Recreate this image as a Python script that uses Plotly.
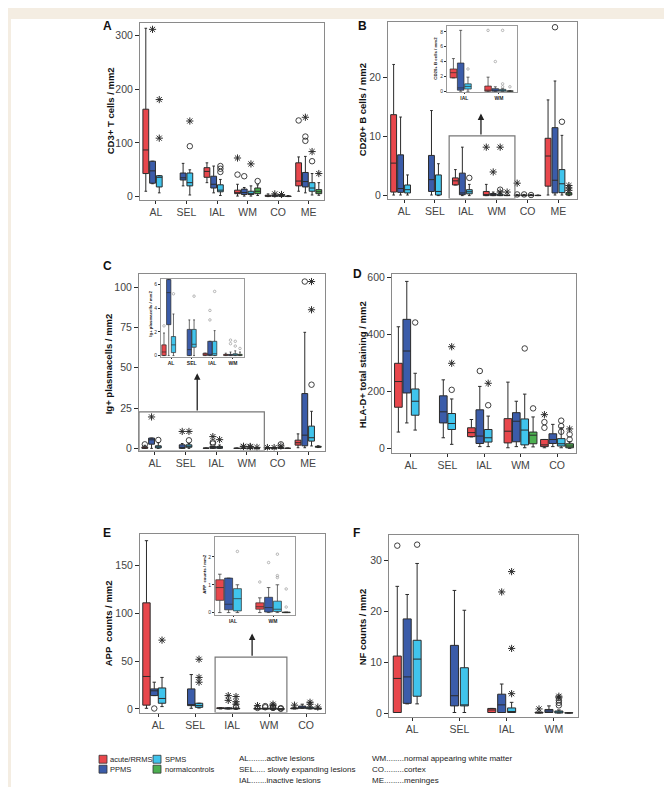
import plotly.graph_objects as go

W, H = 672, 787

GROUPS = ["acute/RRMS", "PPMS", "SPMS", "normal controls"]
COLORS = ["#e8474c", "#3b5ca9", "#40c4ec", "#4caf50"]

# five-number summaries per lesion type: (lower whisker, q1, median, q3, upper whisker)
# None = group not sampled there
CATS6 = ["AL", "SEL", "IAL", "WM", "CO", "ME"]
CATS5 = ["AL", "SEL", "IAL", "WM", "CO"]
CATS4 = ["AL", "SEL", "IAL", "WM"]

# A: CD3+ T cells / mm2
A_RRMS = [(10, 43, 87, 163, 314), None, (26, 36, 47, 54, 63), (1, 5.5, 7, 12, 23), (0, 0.5, 1.5, 2.5, 5), (10, 20, 29, 63, 74)]
A_PPMS = [(24, 25, 48, 66, 66), (20, 31, 35, 44, 62), (7, 16, 23, 38, 57), (1, 4, 7.5, 14, 17), (0, 0.5, 1.5, 3, 5), (7, 18, 28, 45, 75)]
A_SPMS = [(7, 18, 36, 39, 39), (3, 20, 26, 44, 50), (2, 9, 12, 22, 32), (1, 4, 6, 10, 20), (0, 0.5, 1.5, 2.5, 4), (3, 10, 16, 26, 43)]
A_CTRL = [None, None, None, (2, 5.5, 10, 16, 22), (0, 0.2, 0.5, 1, 2), (2.5, 5.5, 9, 13, 26)]
# outliers: (lesion index, group index, value)
A_CIRC = [(1, 2, 94), (2, 2, 57), (2, 2, 52), (2, 2, 46), (3, 0, 41), (3, 1, 38), (3, 3, 29),
          (5, 0, 142), (5, 1, 112), (5, 1, 104), (5, 2, 66)]
A_STAR = [(0, 1, 312), (0, 2, 181), (0, 2, 109), (1, 2, 141), (3, 0, 72), (3, 2, 61), (4, 1, 5), (4, 2, 4),
          (5, 1, 148), (5, 2, 84), (5, 3, 43)]

# B: CD20+ B cells / mm2
B_RRMS = [(0.1, 0.6, 5.5, 13.7, 22.2), None, (1.8, 1.8, 2.5, 3.0, 4.4), (0, 0, 0.15, 0.7, 1.9), (0, 0, 0.05, 0.1, 0.2), (0.1, 1.6, 6.7, 9.7, 16.2)]
B_PPMS = [(0.1, 0.55, 1.2, 6.9, 13.3), (0.1, 0.7, 2.7, 6.8, 14.4), (0, 0.15, 0.45, 3.8, 8.2), (0, 0, 0.1, 0.35, 0.6), (0, 0, 0.05, 0.1, 0.2), (0.1, 0.45, 2.6, 11.5, 19.4)]
B_SPMS = [(0.1, 0.45, 1.0, 1.8, 3.5), (0, 0.1, 0.7, 3.5, 5.4), (0, 0.3, 0.65, 1.0, 1.9), (0, 0, 0.1, 0.25, 0.35), (0, 0, 0.05, 0.1, 0.2), (0.1, 0.5, 2.0, 4.4, 10.2)]
B_CTRL = [None, None, None, (0, 0, 0.02, 0.05, 0.1), (0, 0, 0.02, 0.05, 0.1), (0, 0.1, 0.2, 0.5, 0.6)]
B_CIRC = [(2, 2, 3.0), (3, 2, 1.0), (4, 0, 0.2), (4, 1, 0.2), (4, 2, 0.1), (5, 1, 28.5), (5, 2, 12.5)]
B_STAR = [(3, 0, 8.2), (3, 1, 4.0), (3, 2, 8.2), (3, 2, 0.6), (3, 3, 0.6), (4, 0, 2.1), (5, 3, 0.9), (5, 3, 1.3), (5, 3, 1.7)]

# C: Ig+ plasmacells / mm2
C_RRMS = [(0, 0, 0.3, 0.9, 1.9), None, (0, 0, 0.15, 0.2, 0.2), (0, 0, 0.05, 0.1, 0.2), (0, 0, 0.05, 0.1, 0.2), (0.4, 2.0, 3.5, 5.1, 9)]
C_PPMS = [(0, 2.6, 5.3, 6.4, 6.4), (0, 0, 0.5, 2.2, 3.0), (0, 0, 0.1, 1.2, 1.2), (0, 0, 0.05, 0.1, 0.3), (0, 0, 0.1, 0.2, 0.5), (0.4, 1.6, 8.2, 34, 72)]
C_SPMS = [(0, 0.25, 0.9, 1.6, 3.5), (0, 0.7, 0.95, 2.2, 3.0), (0, 0, 0.15, 1.2, 2.1), (0, 0, 0.05, 0.15, 0.4), (0, 0, 0.2, 0.5, 1), (1.5, 4.5, 6.6, 13.8, 23)]
C_CTRL = [None, None, None, (0, 0, 0.05, 0.1, 0.3), (0, 0, 0.05, 0.1, 0.2), (0.5, 0.7, 1.0, 1.3, 1.6)]
C_CIRC = [(0, 0, 2.5), (0, 2, 5.2), (1, 2, 5.0), (2, 1, 3.0), (2, 1, 3.8), (4, 2, 2.5), (5, 1, 103.5), (5, 2, 39.5)]
C_STAR = [(0, 1, 19.5), (1, 1, 10.5), (1, 2, 10.5), (2, 1, 7.3), (2, 2, 5.4), (3, 1, 1.0), (3, 1, 1.3), (3, 2, 0.8),
          (3, 2, 1.2), (3, 3, 0.6), (4, 0, 0.5), (4, 1, 0.5), (4, 2, 1.5), (5, 2, 103.5), (5, 2, 86)]

# D: HLA-D+ total staining / mm2
D_RRMS = [(57, 144, 234, 298, 426), None, (40, 41, 55, 72, 101), (2, 19, 60, 104, 232), (2, 6, 12, 31, 31)]
D_PPMS = [(89, 194, 341, 452, 585), (37, 89, 128, 184, 240), (6, 17, 43, 135, 217), (6, 23, 95, 125, 165), (6, 17, 31, 51, 84)]
D_SPMS = [(64, 116, 165, 208, 263), (14, 66, 87, 122, 173), (6, 22, 37, 66, 113), (2, 12, 64, 103, 190), (2, 8, 16, 34, 72)]
D_CTRL = [None, None, None, (5, 16, 46, 57, 110), (0, 2, 8, 16, 23)]
D_CIRC = [(0, 2, 441), (1, 2, 205), (2, 1, 271), (2, 2, 151), (3, 2, 350), (3, 3, 140), (4, 0, 72), (4, 0, 92),
          (4, 2, 97), (4, 2, 78), (4, 2, 58), (4, 3, 49), (4, 3, 31)]
D_STAR = [(1, 2, 298), (1, 2, 356), (2, 2, 228), (4, 0, 118), (4, 3, 68)]

# E: APP counts / mm2
E_RRMS = [(0.7, 4, 34, 111, 176), None, (0, 0.44, 0.9, 1.18, 1.38), (0, 0.12, 0.21, 0.35, 0.53), (0, 0.2, 0.5, 1, 1.5)]
E_PPMS = [(14, 14, 19, 21, 28), (0.7, 3.5, 4, 21, 36), (0, 0.1, 0.3, 1.24, 1.24), (0, 0.02, 0.18, 0.55, 0.9), (0.7, 0.7, 1.7, 3, 5)]
E_SPMS = [(2.5, 6, 11, 22, 33), (1, 1.7, 3.5, 6, 6), (0, 0.06, 0.5, 0.86, 1.0), (0, 0.04, 0.12, 0.41, 1.0), (0, 0.2, 0.5, 1.7, 2.5)]
E_CTRL = [None, None, None, (0, 0, 0, 0.02, 0.02), (0, 0, 0.2, 0.5, 1)]
E_CIRC = [(0, 1, 0.5), (2, 2, 2.2), (3, 0, 1.1), (3, 1, 1.8), (3, 1, 3), (3, 2, 1.26), (3, 2, 1.33), (3, 2, 2.1),
          (3, 3, 0.85), (3, 3, 0.2)]
E_STAR = [(0, 2, 72), (1, 2, 52), (1, 2, 33), (1, 2, 28), (2, 1, 9), (2, 1, 14), (2, 2, 5), (2, 2, 7.6), (2, 2, 13),
          (3, 0, 3.5), (3, 2, 3.5), (3, 2, 5), (4, 0, 4), (4, 2, 5), (4, 2, 7), (4, 3, 2)]

# F: NF counts / mm2
F_RRMS = [(0.1, 0.1, 6.8, 11.2, 24.9), None, (0.1, 0.1, 0.6, 0.9, 0.9), (0, 0, 0.05, 0.15, 0.2)]
F_PPMS = [(1.8, 1.9, 7.1, 18.5, 23.3), (0.1, 1.4, 3.4, 13.3, 24.1), (0.1, 0.1, 1.6, 3.7, 5.7), (0.1, 0.1, 0.4, 0.7, 1.4)]
F_SPMS = [(1.8, 3.3, 10.6, 14.3, 29.4), (0.1, 1.4, 1.6, 8.9, 20.2), (0.1, 0.1, 0.3, 1.0, 2.1), (0, 0, 0.1, 0.4, 0.6)]
F_CTRL = [None, None, None, (0, 0, 0.02, 0.05, 0.05)]
F_CIRC = [(0, 0, 32.9), (0, 2, 33.1), (3, 2, 1.5), (3, 2, 2.0), (3, 2, 2.5)]
F_STAR = [(2, 1, 23.8), (2, 2, 3.8), (2, 2, 12.7), (2, 2, 27.8), (3, 0, 0.8), (3, 2, 3.0), (3, 2, 3.3)]

LEGEND_LEFT = ["AL........active lesions", "SEL..... slowly expanding lesions", "IAL.......inactive lesions"]
LEGEND_RIGHT = ["WM........normal appearing white matter", "CO.........cortex", "ME.........meninges"]

FONT = "Liberation Sans, Arial, sans-serif"
INK = "#2b2b2b"

fig = go.Figure()


def sfx(n):
    return "" if n == 1 else str(n)


def add_boxes(n, series, keep, slot, width, lw=1.0):
    for g, stats in enumerate(series):
        xs, lo, q1, md, q3, hi = [], [], [], [], [], []
        for k, j in enumerate(keep):
            s = stats[j]
            if s is None:
                continue
            xs.append(k + (g - 1.5) * slot)
            lo.append(s[0]); q1.append(s[1]); md.append(s[2]); q3.append(s[3]); hi.append(s[4])
        if not xs:
            continue
        fig.add_trace(go.Box(
            x=xs, lowerfence=lo, q1=q1, median=md, q3=q3, upperfence=hi,
            width=width, orientation="v", boxpoints=False, whiskerwidth=0.45,
            fillcolor=COLORS[g], line=dict(color=INK, width=lw),
            name=GROUPS[g], showlegend=False, hoverinfo="skip",
            xaxis="x" + sfx(n), yaxis="y" + sfx(n)))


def add_points(n, pts, keep, slot, symbol, size, color, lw):
    xs, ys = [], []
    for j, g, v in pts:
        if j in keep:
            xs.append(keep.index(j) + (g - 1.5) * slot)
            ys.append(v)
    if xs:
        fig.add_trace(go.Scatter(
            x=xs, y=ys, mode="markers", showlegend=False, hoverinfo="skip",
            marker=dict(symbol=symbol, size=size, color=color, line=dict(color=color, width=lw)),
            xaxis="x" + sfx(n), yaxis="y" + sfx(n)))


def add_axes(n, frame, xr, yr, cats, yticks, small=False):
    x0, y0, x1, y1 = frame
    if small:
        xfont = dict(family=FONT, size=5, color="#222", weight="bold")
        yfont = dict(family=FONT, size=5, color="#333")
        line, tl = "#9a9a9a", 2
    else:
        xfont = dict(family=FONT, size=10.5, color="#444")
        yfont = dict(family=FONT, size=10.5, color="#444")
        line, tl = "#8a8a8a", 4
    fig.update_layout({
        "xaxis" + sfx(n): dict(domain=[x0 / W, x1 / W], range=xr, anchor="y" + sfx(n),
                              tickmode="array", tickvals=list(range(len(cats))), ticktext=cats,
                              showline=True, mirror=True, linecolor=line, linewidth=1,
                              ticks="outside", ticklen=tl - 1, tickcolor=INK, tickwidth=1,
                              showgrid=False, zeroline=False, tickfont=xfont, fixedrange=True),
        "yaxis" + sfx(n): dict(domain=[1 - y1 / H, 1 - y0 / H], range=yr, anchor="x" + sfx(n),
                              tickmode="array", tickvals=yticks,
                              showline=True, mirror=True, linecolor=line, linewidth=1,
                              ticks="outside", ticklen=tl, tickcolor=INK, tickwidth=1.2,
                              showgrid=False, zeroline=False, tickfont=yfont, fixedrange=True),
    })


def panel(n, series, circ, star, cats, keep, frame, xr, yr, yticks, slot, width, small=False):
    add_axes(n, frame, xr, yr, [cats[j] for j in keep], yticks, small)
    if small:
        add_boxes(n, series, keep, slot, width, lw=0.7)
        add_points(n, circ + star, keep, slot, "circle-open", 2.5, "#8c8c8c", 0.6)
    else:
        add_boxes(n, series, keep, slot, width)
        add_points(n, circ, keep, slot, "circle-open", 5.5, INK, 0.9)
        add_points(n, star, keep, slot, "asterisk-open", 6, INK, 1)


A = [A_RRMS, A_PPMS, A_SPMS, A_CTRL]
B = [B_RRMS, B_PPMS, B_SPMS, B_CTRL]
C = [C_RRMS, C_PPMS, C_SPMS, C_CTRL]
D = [D_RRMS, D_PPMS, D_SPMS, D_CTRL]
E = [E_RRMS, E_PPMS, E_SPMS, E_CTRL]
F = [F_RRMS, F_PPMS, F_SPMS, F_CTRL]

panel(1, A, A_CIRC, A_STAR, CATS6, [0, 1, 2, 3, 4, 5], (132, 12, 316, 190), [-0.52, 5.5], [-5.5, 324], [0, 100, 200, 300], 0.22, 0.19)
panel(2, B, B_CIRC, B_STAR, CATS6, [0, 1, 2, 3, 4, 5], (380, 11, 569, 189), [-0.52, 5.6], [-0.5, 29.4], [0, 10, 20], 0.225, 0.19)
panel(3, C, C_CIRC, C_STAR, CATS6, [0, 1, 2, 3, 4, 5], (131, 265, 317, 443), [-0.52, 5.55], [-1.4, 108.2], [0, 25, 50, 75, 100], 0.22, 0.19)
panel(4, D, D_CIRC, D_STAR, CATS5, [0, 1, 2, 3, 4], (384, 265, 568, 445), [-0.52, 4.52], [-15, 611], [0, 200, 400, 600], 0.23, 0.21)
panel(5, E, E_CIRC, E_STAR, CATS5, [0, 1, 2, 3, 4], (132, 527, 317, 707), [-0.49, 4.51], [-3.8, 183], [0, 50, 100, 150], 0.21, 0.2)
panel(6, F, F_CIRC, F_STAR, CATS4, [0, 1, 2, 3], (381, 528, 570, 711), [-0.49, 3.51], [-0.7, 35], [0, 10, 20, 30], 0.21, 0.17)
# zoomed insets
panel(7, B, B_CIRC, B_STAR, CATS6, [2, 3], (439, 15, 509, 82), [-0.5, 1.52], [-0.15, 8.8], [0, 2, 4, 6, 8], 0.21, 0.19, small=True)
panel(8, C, C_CIRC, C_STAR, CATS6, [0, 1, 2, 3], (153, 270, 236, 349), [-0.49, 3.54], [-0.15, 6.45], [0, 2, 4, 6], 0.23, 0.21, small=True)
panel(9, E, E_CIRC, E_STAR, CATS5, [2, 3], (207, 530, 287, 609), [-0.45, 1.55], [-0.1, 2.72], [0, 1, 2], 0.22, 0.2, small=True)

shapes = [
    # white page inside the beige border
    dict(type="rect", xref="paper", yref="paper", x0=3 / W, x1=664 / W, y0=1 - 783 / H, y1=1 - 8 / H,
         fillcolor="white", line=dict(width=0), layer="below"),
    # zoom windows
    dict(type="rect", xref="x2", yref="y2", x0=1.46, x1=3.59, y0=-0.5, y1=10.1, line=dict(color="#777", width=1.2)),
    dict(type="rect", xref="x3", yref="y3", x0=-0.52, x1=3.57, y0=-1.4, y1=22.6, line=dict(color="#777", width=1.2)),
    dict(type="rect", xref="x5", yref="y5", x0=1.54, x1=3.48, y0=-3.8, y1=54.2, line=dict(color="#777", width=1.2)),
]

annotations = []
for ax, x, y0, y1 in [(2, 2.49, 10.1, 13.9), (3, 1.38, 22.6, 46.6), (5, 2.54, 54.2, 79)]:
    annotations.append(dict(xref="x" + sfx(ax), yref="y" + sfx(ax), axref="x" + sfx(ax), ayref="y" + sfx(ax),
                            x=x, y=y1, ax=x, ay=y0, text="", showarrow=True, arrowhead=2,
                            arrowsize=1, arrowwidth=1.3, arrowcolor="#222"))

for letter, x, y in [("A", 99, 15.5), ("B", 354, 15), ("C", 99, 257), ("D", 349.5, 265.5), ("E", 98.5, 526), ("F", 348, 526.5)]:
    annotations.append(dict(xref="paper", yref="paper", x=x / W, y=1 - y / H, text="<b>%s</b>" % letter,
                            showarrow=False, xanchor="center", yanchor="middle",
                            font=dict(family=FONT, size=12, color="#111")))

for title, x, y, size in [("CD3+ T cells / mm2", 102, 100, 9.5), ("CD20+ B cells / mm2", 354, 100, 9.5),
                          ("Ig+ plasmacells / mm2", 100, 356, 9.5), ("HLA-D+ total staining / mm2", 354, 357, 9.5),
                          ("APP  counts / mm2", 100, 617, 9.5), ("NF counts / mm2", 354, 621, 9.5),
                          ("CD20+ B cells / mm2", 428, 48, 4.3), ("Ig+ plasmacells / mm2", 143, 305, 4.3),
                          ("APP  counts / mm2", 197, 568, 4.3)]:
    annotations.append(dict(xref="paper", yref="paper", x=x / W, y=1 - y / H, text="<b>%s</b>" % title,
                            textangle=-90, showarrow=False, xanchor="center", yanchor="middle",
                            font=dict(family=FONT, size=size, color="#111")))

# legend: colour keys and abbreviations
for g, (x0, y0) in enumerate([(91, 750), (91, 760), (145, 750), (145, 760)]):
    shapes.append(dict(type="rect", xref="paper", yref="paper", x0=x0 / W, x1=(x0 + 8) / W,
                       y0=1 - (y0 + 8) / H, y1=1 - y0 / H, fillcolor=COLORS[g], line=dict(color="#333", width=0.8)))
for g, (x, y) in enumerate([(100, 754), (100, 764.5), (154.5, 754), (154.5, 764.5)]):
    annotations.append(dict(xref="paper", yref="paper", x=x / W, y=1 - y / H, text=GROUPS[g].replace("normal ", "normal"),
                            showarrow=False, xanchor="left", yanchor="middle",
                            font=dict(family=FONT, size=7.5, color="#222")))
for col, x in [(LEGEND_LEFT, 229), (LEGEND_RIGHT, 362)]:
    for i, txt in enumerate(col):
        annotations.append(dict(xref="paper", yref="paper", x=x / W, y=1 - (753 + 11 * i) / H, text=txt,
                                showarrow=False, xanchor="left", yanchor="middle",
                                font=dict(family=FONT, size=8, color="#222")))

fig.update_layout(width=W, height=H, margin=dict(l=0, r=0, t=0, b=0),
                  paper_bgcolor="#f4ede2", plot_bgcolor="white",
                  shapes=shapes, annotations=annotations, showlegend=False)

fig.write_html("out.html")
